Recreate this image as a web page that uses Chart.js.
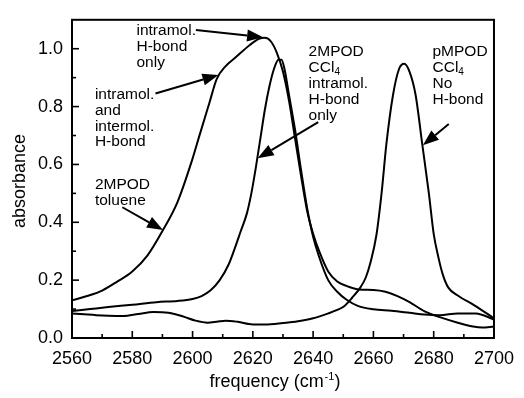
<!DOCTYPE html>
<html><head><meta charset="utf-8">
<script src="https://cdn.jsdelivr.net/npm/chart.js@4/dist/chart.umd.min.js"></script>
<style>html,body{margin:0;padding:0;background:#fff}</style>
</head><body>
<canvas id="c" width="524" height="398"></canvas>
<script>
// ---- data ----
const tolueneFreq = [2560,2565,2570,2575,2580,2585,2590,2595,2600,2602,2605.5,2608,2611,2614.5,2619,2622,2624,2626,2628,2630,2632,2634,2636,2638,2640,2642,2645,2648,2651,2655,2660,2664,2668,2672,2677,2682,2688,2693,2696,2700];
const tolueneAbs  = [0.13,0.145,0.164,0.195,0.23,0.285,0.37,0.47,0.62,0.69,0.81,0.895,0.94,0.972,1.013,1.034,1.038,1.025,0.985,0.92,0.82,0.69,0.56,0.44,0.36,0.3,0.23,0.195,0.18,0.168,0.166,0.16,0.145,0.124,0.092,0.072,0.053,0.04,0.036,0.04];

const ccl4Freq = [2560,2566,2572,2580,2588,2595,2600,2603,2606,2609,2612,2614,2616,2618,2619.5,2621,2622.5,2624,2625.5,2627,2628.5,2629.5,2630.5,2632,2634,2636,2638,2640,2642,2645,2648,2651,2655,2660,2666,2672,2677,2682,2688,2694,2700];
const ccl4Abs  = [0.093,0.1,0.107,0.115,0.124,0.128,0.135,0.145,0.165,0.2,0.255,0.31,0.37,0.43,0.5,0.59,0.69,0.79,0.87,0.93,0.962,0.962,0.93,0.84,0.72,0.58,0.45,0.35,0.28,0.2,0.16,0.133,0.11,0.099,0.094,0.087,0.081,0.079,0.085,0.085,0.064];

const pmpodFreq = [2560,2564,2568,2572,2577,2582,2587,2592,2597,2601,2605,2608,2611,2615,2620,2624,2630,2635,2640,2645,2648,2650.3,2653,2655.7,2657.5,2659,2661,2662.7,2664.3,2666.5,2668.5,2670.2,2672,2674,2676.2,2678.4,2680,2681.6,2683,2684.8,2688,2693.5,2700];
const pmpodAbs  = [0.085,0.082,0.079,0.077,0.076,0.083,0.09,0.087,0.074,0.06,0.053,0.056,0.06,0.056,0.047,0.047,0.052,0.058,0.068,0.085,0.097,0.11,0.14,0.175,0.21,0.26,0.356,0.5,0.67,0.84,0.93,0.948,0.92,0.84,0.67,0.5,0.36,0.277,0.22,0.175,0.147,0.113,0.068];

const xTickValues = [2560,2580,2600,2620,2640,2660,2680,2700];
const yTickValues = [0.0,0.2,0.4,0.6,0.8,1.0];
const xTitle = ["frequency (cm", "-1", ")"];
const yTitle = "absorbance";

// annotation texts (lines) and their anchors in data units
const noteTexts = [
  ["intramol.","H-bond","only"],
  ["intramol.","and","intermol.","H-bond"],
  ["2MPOD","toluene"],
  ["2MPOD","CCl4","intramol.","H-bond","only"],
  ["pMPOD","CCl4","No","H-bond"]
];
const noteAnchors = [[2581.4,1.062],[2567.6,0.842],[2567.6,0.531],[2638.5,0.988],[2679.6,0.988]];
const arrowFrom  = [[2601.1,1.065],[2587.7,0.845],[2576.7,0.452],[2641.7,0.746],[2685.0,0.740]];
const arrowTo    = [[2623.4,1.040],[2608.6,0.909],[2590.2,0.373],[2621.6,0.621],[2676.4,0.666]];

// ---- rendering ----
const FONT = "'Liberation Sans', Arial, Helvetica, sans-serif";
const toXY = (fs, as) => fs.map((f, i) => ({x: f, y: as[i]}));
const lineDs = (d) => ({data: d, borderColor: '#000', borderWidth: 2, pointRadius: 0, fill: false, cubicInterpolationMode: 'monotone'});

function drawArrow(ctx, x1, y1, x2, y2) {
  const ang = Math.atan2(y2 - y1, x2 - x1);
  const L = 16, W = 6;
  const bx = x2 - L * Math.cos(ang), by = y2 - L * Math.sin(ang);
  ctx.beginPath(); ctx.moveTo(x1, y1); ctx.lineTo(bx, by); ctx.lineWidth = 2; ctx.stroke();
  ctx.beginPath();
  ctx.moveTo(x2, y2);
  ctx.lineTo(bx + W * Math.sin(ang), by - W * Math.cos(ang));
  ctx.lineTo(bx - W * Math.sin(ang), by + W * Math.cos(ang));
  ctx.closePath(); ctx.fill();
}

const decor = {
  id: 'decor',
  afterDatasetsDraw(chart) {
    const ctx = chart.ctx, a = chart.chartArea, xs = chart.scales.x, ys = chart.scales.y;
    ctx.save();
    ctx.strokeStyle = '#000'; ctx.fillStyle = '#000';
    // frame
    ctx.lineWidth = 2;
    ctx.strokeRect(a.left, a.top, a.right - a.left, a.bottom - a.top);
    // ticks (inward)
    ctx.lineWidth = 1.6;
    for (let i = 0; i < xTickValues.length; i++) {
      const p = xs.getPixelForValue(xTickValues[i]);
      ctx.beginPath(); ctx.moveTo(p, a.bottom); ctx.lineTo(p, a.bottom - 7); ctx.stroke();
      if (i < xTickValues.length - 1) {
        const m = xs.getPixelForValue((xTickValues[i] + xTickValues[i + 1]) / 2);
        ctx.beginPath(); ctx.moveTo(m, a.bottom); ctx.lineTo(m, a.bottom - 4); ctx.stroke();
      }
    }
    for (let i = 0; i < yTickValues.length; i++) {
      const p = ys.getPixelForValue(yTickValues[i]);
      ctx.beginPath(); ctx.moveTo(a.left, p); ctx.lineTo(a.left + 7, p); ctx.stroke();
      if (i < yTickValues.length - 1) {
        const m = ys.getPixelForValue((yTickValues[i] + yTickValues[i + 1]) / 2);
        ctx.beginPath(); ctx.moveTo(a.left, m); ctx.lineTo(a.left + 4, m); ctx.stroke();
      }
    }
    // annotations
    const lh = 15.9;
    ctx.textBaseline = 'middle'; ctx.textAlign = 'left';
    noteTexts.forEach((lines, k) => {
      const x0 = xs.getPixelForValue(noteAnchors[k][0]);
      const y0 = ys.getPixelForValue(noteAnchors[k][1]);
      lines.forEach((t, j) => {
        const y = y0 + j * lh;
        ctx.font = '15.5px ' + FONT;
        const m = t.match(/^(CCl)(4)$/);
        if (m) {
          ctx.fillText(m[1], x0, y);
          const w = ctx.measureText(m[1]).width;
          ctx.font = '10px ' + FONT;
          ctx.fillText(m[2], x0 + w, y + 4);
        } else {
          ctx.fillText(t, x0, y);
        }
      });
      drawArrow(ctx, xs.getPixelForValue(arrowFrom[k][0]), ys.getPixelForValue(arrowFrom[k][1]),
                     xs.getPixelForValue(arrowTo[k][0]), ys.getPixelForValue(arrowTo[k][1]));
    });
    // x title with superscript
    ctx.textBaseline = 'alphabetic';
    ctx.font = '18px ' + FONT;
    const w1 = ctx.measureText(xTitle[0]).width;
    const w3 = ctx.measureText(xTitle[2]).width;
    ctx.font = '11px ' + FONT;
    const w2 = ctx.measureText(xTitle[1]).width;
    const total = w1 + w2 + w3 + 1;
    let tx = (a.left + a.right) / 2 - 8 - total / 2;
    const by = 387;
    ctx.font = '18px ' + FONT; ctx.fillText(xTitle[0], tx, by); tx += w1 + 1;
    ctx.font = '11px ' + FONT; ctx.fillText(xTitle[1], tx, by - 7); tx += w2;
    ctx.font = '18px ' + FONT; ctx.fillText(xTitle[2], tx, by);
    // y title
    ctx.save();
    ctx.translate(25, (a.top + a.bottom) / 2 + 2);
    ctx.rotate(-Math.PI / 2);
    ctx.textAlign = 'center';
    ctx.font = '18px ' + FONT;
    ctx.fillText(yTitle, 0, 0);
    ctx.restore();
    ctx.restore();
  }
};

new Chart(document.getElementById('c'), {
  type: 'line',
  data: { datasets: [lineDs(toXY(tolueneFreq, tolueneAbs)), lineDs(toXY(ccl4Freq, ccl4Abs)), lineDs(toXY(pmpodFreq, pmpodAbs))] },
  options: {
    responsive: false, animation: false, devicePixelRatio: 1,
    layout: { padding: { top: 12, right: 21, left: 0, bottom: 0 } },
    plugins: { legend: { display: false }, tooltip: { enabled: false } },
    scales: {
      x: {
        type: 'linear', min: 2560, max: 2700,
        afterBuildTicks: s => { s.ticks = xTickValues.map(v => ({value: v})); },
        afterFit: s => { s.height = 60; },
        grid: { display: false, drawTicks: false }, border: { display: false },
        ticks: { color: '#000', font: { size: 18, family: FONT }, padding: 10, maxRotation: 0, autoSkip: false, callback: v => String(v) }
      },
      y: {
        type: 'linear', min: 0, max: 1.1,
        afterBuildTicks: s => { s.ticks = yTickValues.map(v => ({value: v})); },
        afterFit: s => { s.width = 72; },
        grid: { display: false, drawTicks: false }, border: { display: false },
        ticks: { color: '#000', font: { size: 18, family: FONT }, padding: 9, autoSkip: false, callback: v => Number(v).toFixed(1) }
      }
    }
  },
  plugins: [decor]
});
</script>
</body></html>
